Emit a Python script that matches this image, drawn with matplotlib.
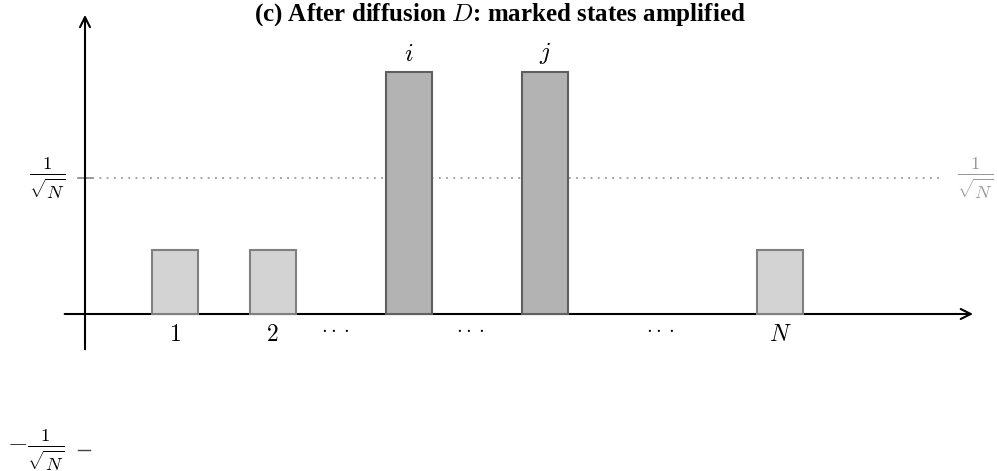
import matplotlib.pyplot as plt
import numpy as np

plt.rcParams['mathtext.fontset'] = 'cm'

# bar positions (x units) and amplitudes (in units of 1/sqrt(N))
labels = ['$1$', '$2$', '$i$', '$j$', '$N$']
xpos = [1.32, 2.76, 4.76, 6.76, 10.22]
amps = [0.47, 0.47, 1.78, 1.78, 0.47]
marked = [False, False, True, True, False]
dots_x = [3.68, 5.66, 8.46]

fig = plt.figure(figsize=(9.97, 4.71), dpi=100)
ax = fig.add_axes([0, 0, 1, 1])
ax.set_xlim(-85 / 68, 912 / 68)
ax.set_ylim(-157 / 136, 314 / 136)
ax.axis('off')

# axes with arrows
ax.annotate('', xy=(13.1, 0), xytext=(-0.34, 0),
            arrowprops=dict(arrowstyle='->', lw=1.5, color='black', mutation_scale=18))
ax.annotate('', xy=(0, 2.22), xytext=(0, -0.28),
            arrowprops=dict(arrowstyle='->', lw=1.5, color='black', mutation_scale=18))

# 1/sqrt(N) reference line
ax.plot([0, 12.6], [1, 1], ls=(0, (1, 3)), color='#999999', lw=1.3)
ax.plot([-0.1, 0.1], [1, 1], color='#888888', lw=1.2)
ax.text(-0.55, 1, r'$\frac{1}{\sqrt{N}}$', ha='center', va='center', fontsize=19)
ax.text(13.1, 1, r'$\frac{1}{\sqrt{N}}$', ha='center', va='center', fontsize=19, color='#999999')

# -1/sqrt(N) tick
ax.plot([-0.1, 0.08], [-1, -1], color='#444444', lw=1.0)
ax.text(-0.72, -1, r'$-\frac{1}{\sqrt{N}}$', ha='center', va='center', fontsize=19)

# bars
for x, a, m, lab in zip(xpos, amps, marked, labels):
    fc = '#b3b3b3' if m else '#d3d3d3'
    ec = '#5f5f5f' if m else '#808080'
    ax.bar(x, a, width=0.676, bottom=0, color=fc, edgecolor=ec, linewidth=1.5, zorder=3)
    if m:
        ax.text(x, a + 0.04, lab, ha='center', va='bottom', fontsize=18)
    else:
        ax.text(x, -0.06, lab, ha='center', va='top', fontsize=17)

for x in dots_x:
    ax.text(x, -0.1, r'$\cdot\cdot\cdot$', ha='center', va='center', fontsize=15)

ax.text(6.1, 2.3, r'(c) After diffusion $D$: marked states amplified',
        ha='center', va='top', fontsize=18, fontweight='bold', family='Liberation Serif')

fig.savefig('out.png', dpi=100)
